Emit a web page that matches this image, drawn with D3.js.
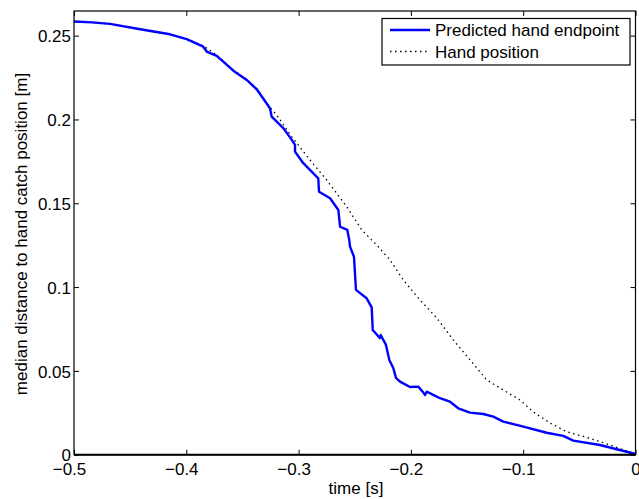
<!DOCTYPE html>
<html>
<head>
<meta charset="utf-8">
<script src="https://cdn.jsdelivr.net/npm/d3@7"></script>
<style>
  body { margin: 0; background: #fff; }
  svg { display: block; }
  text { font-family: "Liberation Sans", Arial, sans-serif; fill: #000; }
</style>
</head>
<body>
<div id="chart"></div>
<script>
// predicted hand endpoint (time [s], distance [m])
const predT = [-0.5, -0.484, -0.468, -0.441, -0.4145, -0.3996, -0.3849, -0.3818, -0.3729, -0.3581, -0.3462,
  -0.3373, -0.3255, -0.324, -0.3136, -0.3061, -0.3032, -0.3032, -0.2958, -0.2825, -0.2818,
  -0.272, -0.2646, -0.2631, -0.2566, -0.2549, -0.2542, -0.2507, -0.2489, -0.2394, -0.2349,
  -0.234, -0.2275, -0.2269, -0.2222, -0.2192, -0.2157, -0.2133, -0.2097, -0.2008, -0.1934,
  -0.1895, -0.1874, -0.1859, -0.1741, -0.1652, -0.1578, -0.1474, -0.1355, -0.1266, -0.1177,
  -0.0999, -0.0791, -0.0643, -0.0554, -0.0316, 0];
const predV = [0.2584, 0.2579, 0.257, 0.2538, 0.2508, 0.2479, 0.2434, 0.2405, 0.2379, 0.2291, 0.2236,
  0.218, 0.2067, 0.2017, 0.1948, 0.1878, 0.1848, 0.1808, 0.1739, 0.1649, 0.1569,
  0.153, 0.146, 0.136, 0.1341, 0.1281, 0.1241, 0.1181, 0.0983, 0.0933, 0.0879,
  0.0744, 0.0695, 0.0714, 0.0655, 0.0565, 0.0517, 0.0458, 0.0436, 0.0404, 0.0406,
  0.0376, 0.0356, 0.0376, 0.0337, 0.0316, 0.0277, 0.0251, 0.0243, 0.0227, 0.0197,
  0.0167, 0.0131, 0.0112, 0.0084, 0.0058, 0.0004];

// hand position
const handT = [-0.5, -0.484, -0.468, -0.441, -0.415, -0.4, -0.385, -0.373, -0.358, -0.346, -0.337,
  -0.326, -0.3195, -0.3061, -0.2898, -0.275, -0.2572, -0.2438, -0.2305, -0.2186, -0.2068,
  -0.1919, -0.177, -0.1623, -0.1474, -0.1325, -0.1177, -0.1028, -0.091, -0.0761, -0.0613,
  -0.0405, -0.0227, 0];
const handV = [0.2584, 0.2579, 0.257, 0.2538, 0.2508, 0.2479, 0.244, 0.2385, 0.2295, 0.2238, 0.2183,
  0.2075, 0.2027, 0.1897, 0.1758, 0.1639, 0.148, 0.1341, 0.1251, 0.1162, 0.1042,
  0.0923, 0.0816, 0.0685, 0.0566, 0.0446, 0.0386, 0.0326, 0.0255, 0.0189, 0.0137,
  0.0098, 0.0058, 0.0004];

const xTicks = [-0.5, -0.4, -0.3, -0.2, -0.1, 0];
const yTicks = [0, 0.05, 0.1, 0.15, 0.2, 0.25];
const seriesNames = ["Predicted hand endpoint", "Hand position"];

const W = 639, H = 499;
const mLeft = 74, mRight = 635.5, mTop = 11, mBottom = 454.7;

const svg = d3.select("#chart").append("svg")
  .attr("width", W).attr("height", H);

const x = d3.scaleLinear().domain([-0.5, 0]).range([mLeft, mRight]);
const y = d3.scaleLinear().domain([0, 0.2647]).range([mBottom, mTop]);

const line = d3.line().x(d => x(d[0])).y(d => y(d[1]));

const pred = predT.map((t, i) => [t, predV[i]]);
const hand = handT.map((t, i) => [t, handV[i]]);

// dotted hand position first, blue on top
svg.append("path")
  .attr("d", line(hand))
  .attr("fill", "none")
  .attr("stroke", "#000")
  .attr("stroke-width", 1.3)
  .attr("stroke-dasharray", "1.5,3.5");

svg.append("path")
  .attr("d", line(pred))
  .attr("fill", "none")
  .attr("stroke", "#0000ff")
  .attr("stroke-width", 2.4)
  .attr("stroke-linejoin", "round");

// axes, ticks pointing inward
const tickLen = 5;
const xAxis = d3.axisBottom(x).tickValues(xTicks).tickSizeInner(-tickLen).tickSizeOuter(0)
  .tickFormat(d => d === 0 ? "0" : "\u2212" + Math.abs(d));
const gx = svg.append("g").attr("transform", `translate(0,${mBottom})`).call(xAxis);
gx.select(".domain").remove();
gx.selectAll("text")
  .attr("y", 8).attr("dy", "0.71em")
  .attr("dx", d => d === 0 ? 0 : -5)
  .style("font-size", "17px").style("font-family", "Liberation Sans, Arial, sans-serif");

const xTop = d3.axisTop(x).tickValues(xTicks).tickSizeInner(-tickLen).tickSizeOuter(0).tickFormat("");
const gxt = svg.append("g").attr("transform", `translate(0,${mTop})`).call(xTop);
gxt.select(".domain").remove();

const yAxis = d3.axisLeft(y).tickValues(yTicks).tickSizeInner(-tickLen).tickSizeOuter(0)
  .tickFormat(d => d === 0 ? "0" : String(d));
const gy = svg.append("g").attr("transform", `translate(${mLeft},0)`).call(yAxis);
gy.select(".domain").remove();
gy.selectAll("text")
  .attr("x", -3).attr("dy", "0.36em")
  .style("font-size", "17px").style("font-family", "Liberation Sans, Arial, sans-serif");

const yRight = d3.axisRight(y).tickValues(yTicks).tickSizeInner(-tickLen).tickSizeOuter(0).tickFormat("");
const gyr = svg.append("g").attr("transform", `translate(${mRight},0)`).call(yRight);
gyr.select(".domain").remove();

svg.selectAll(".tick line").attr("stroke", "#000").attr("stroke-width", 1);

// box
svg.append("rect")
  .attr("x", mLeft).attr("y", mTop)
  .attr("width", mRight - mLeft).attr("height", mBottom - mTop)
  .attr("fill", "none").attr("stroke", "#000").attr("stroke-width", 1.2);
svg.append("line")
  .attr("x1", mLeft).attr("x2", mRight).attr("y1", mBottom).attr("y2", mBottom)
  .attr("stroke", "#000").attr("stroke-width", 2);

// axis titles
svg.append("text")
  .attr("x", 356).attr("y", 494)
  .attr("text-anchor", "middle")
  .style("font-size", "17px")
  .text("time [s]");

svg.append("text")
  .attr("transform", "translate(27,234) rotate(-90)")
  .attr("text-anchor", "middle")
  .style("font-size", "17px")
  .text("median distance to hand catch position [m]");

// legend
const lg = svg.append("g");
lg.append("rect")
  .attr("x", 382).attr("y", 18.5)
  .attr("width", 248).attr("height", 46.5)
  .attr("fill", "#fff").attr("stroke", "#000").attr("stroke-width", 1.2);

const legendY = [30, 51.5];
lg.append("line")
  .attr("x1", 390).attr("x2", 430).attr("y1", legendY[0]).attr("y2", legendY[0])
  .attr("stroke", "#0000ff").attr("stroke-width", 2.4);
lg.append("line")
  .attr("x1", 390).attr("x2", 430).attr("y1", legendY[1]).attr("y2", legendY[1])
  .attr("stroke", "#000").attr("stroke-width", 1.3).attr("stroke-dasharray", "1.5,3.5");

lg.selectAll("text.leg")
  .data(seriesNames)
  .enter()
  .append("text")
  .attr("class", "leg")
  .attr("x", 435)
  .attr("y", (d, i) => legendY[i])
  .attr("dy", "0.36em")
  .style("font-size", "17px")
  .text(d => d);
</script>
</body>
</html>
